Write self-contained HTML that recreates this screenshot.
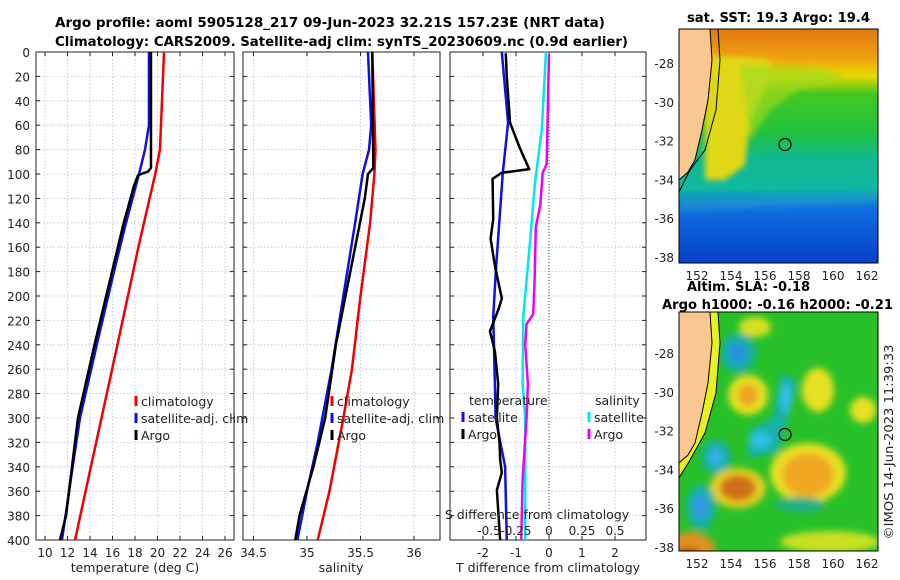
<!DOCTYPE html>
<html><head><meta charset="utf-8"><style>
body{margin:0;background:#fff}
svg{display:block;font-family:"DejaVu Sans","Liberation Sans",sans-serif}
</style></head><body>
<svg id="fig" width="900" height="580" viewBox="0 0 900 580">
<defs>
<filter id="blur6" x="-30%" y="-30%" width="160%" height="160%"><feGaussianBlur stdDeviation="3.5"/></filter>
<filter id="blur3" x="-30%" y="-30%" width="160%" height="160%"><feGaussianBlur stdDeviation="3"/></filter>
<clipPath id="c1"><rect x="679" y="29" width="199" height="234"/></clipPath>
<clipPath id="c2"><rect x="679" y="312" width="199" height="239"/></clipPath>
<linearGradient id="sst" x1="0" y1="0" x2="0" y2="1">
<stop offset="0" stop-color="#e07810"/><stop offset="0.12" stop-color="#f0a010"/><stop offset="0.2" stop-color="#e8d800"/>
<stop offset="0.28" stop-color="#40c820"/><stop offset="0.45" stop-color="#20c040"/><stop offset="0.55" stop-color="#10b890"/>
<stop offset="0.68" stop-color="#10b8a0"/><stop offset="0.76" stop-color="#1070e0"/><stop offset="1" stop-color="#0840c8"/></linearGradient>
</defs>
<text x="55" y="27" font-size="13.5" font-weight="bold" textLength="550" lengthAdjust="spacingAndGlyphs">Argo profile: aoml 5905128_217 09-Jun-2023 32.21S 157.23E (NRT data)</text>
<text x="55" y="46" font-size="13.5" font-weight="bold" textLength="573" lengthAdjust="spacingAndGlyphs">Climatology: CARS2009. Satellite-adj clim: synTS_20230609.nc (0.9d earlier)</text>
<g id="panels"></g>
<!-- map 1 -->
<g>
<g clip-path="url(#c1)">
<rect x="679" y="29" width="199" height="234" fill="url(#sst)"/>
<g filter="url(#blur3)">
<path d="M705 55 L770 60 L765 90 L750 120 L745 165 L725 180 L705 180 Z" fill="#e0d818"/>
<path d="M740 65 L820 68 L850 78 L800 88 L770 110 L750 140 Z" fill="#a0d820" opacity="0.7"/>
<path d="M679 198 L878 192 L878 202 L679 212 Z" fill="#20a0d0" opacity="0.5"/>
</g>
<path d="M679 29 L710 29 L712 60 L708 100 L702 130 L695 160 L688 172 L679 180 Z" fill="#f8c890"/>
<path d="M710 29 L712 60 L708 100 L702 130 L695 160 L688 172 L679 180" fill="none" stroke="#000" stroke-width="1"/>
<path d="M718 29 L720 60 L716 110 L705 150 L690 170 L679 192" fill="none" stroke="#000" stroke-width="1"/>
</g>
<rect x="679" y="29" width="199" height="234" fill="none" stroke="#000"/>
<circle cx="785" cy="144.5" r="6" fill="none" stroke="#000" stroke-width="1.2"/>
<text x="687" y="22" font-size="13" font-weight="bold" textLength="183" lengthAdjust="spacingAndGlyphs">sat. SST: 19.3 Argo: 19.4</text>
</g>
<!-- map 2 -->
<g>
<g clip-path="url(#c2)">
<rect x="679" y="312" width="199" height="239" fill="#28c028"/>
<g filter="url(#blur6)">
<ellipse cx="755" cy="327" rx="16" ry="10" fill="#d8e020"/>
<ellipse cx="738" cy="353" rx="18" ry="20" fill="#18b0a0"/><ellipse cx="738" cy="353" rx="9" ry="10" fill="#2890e0"/>
<ellipse cx="748" cy="395" rx="20" ry="20" fill="#e8e020"/><ellipse cx="748" cy="395" rx="10" ry="11" fill="#f0a020"/>
<ellipse cx="818" cy="390" rx="16" ry="22" fill="#e8e020"/>
<ellipse cx="863" cy="410" rx="13" ry="13" fill="#e8e020"/>
<path d="M782 372 L797 382 L778 452 L748 458 L750 430 L773 418 Z" fill="#18b0a8"/>
<ellipse cx="786" cy="398" rx="6" ry="15" fill="#30c0e8"/><ellipse cx="760" cy="440" rx="11" ry="8" fill="#30c0e8"/>
<ellipse cx="808" cy="473" rx="38" ry="30" fill="#e8e020"/><ellipse cx="808" cy="475" rx="26" ry="22" fill="#f0a820"/>
<ellipse cx="716" cy="457" rx="15" ry="17" fill="#18b0a0"/><ellipse cx="716" cy="457" rx="7" ry="9" fill="#30b0e8"/>
<ellipse cx="738" cy="488" rx="28" ry="20" fill="#e8d020"/><ellipse cx="738" cy="488" rx="18" ry="13" fill="#d07018"/>
<ellipse cx="701" cy="507" rx="15" ry="23" fill="#18b0a0"/><ellipse cx="701" cy="507" rx="7" ry="13" fill="#3098e8"/>
<ellipse cx="690" cy="550" rx="25" ry="18" fill="#e09020"/><ellipse cx="688" cy="556" rx="14" ry="8" fill="#b04010"/>
<ellipse cx="800" cy="505" rx="25" ry="8" fill="#20b080"/>
<ellipse cx="830" cy="542" rx="50" ry="11" fill="#c8e020"/>
</g>
<path d="M679 312 L710 312 L712 343 L708 383 L702 413 L695 443 L688 455 L679 463 Z" fill="#f8c890"/>
<path d="M710 312 L712 343 L708 383 L702 413 L695 443 L688 455 L679 463 L679 478 L690 460 L705 433 L716 393 L720 343 L718 312 Z" fill="#e8f020"/>
<path d="M710 312 L712 343 L708 383 L702 413 L695 443 L688 455 L679 463" fill="none" stroke="#000"/>
<path d="M718 312 L720 343 L716 393 L705 433 L690 460 L679 478" fill="none" stroke="#000"/>
</g>
<rect x="679" y="312" width="199" height="239" fill="none" stroke="#000"/>
<circle cx="785" cy="434.5" r="6" fill="none" stroke="#000" stroke-width="1.2"/>
<text x="687" y="291" font-size="13" font-weight="bold" textLength="123" lengthAdjust="spacingAndGlyphs">Altim. SLA: -0.18</text>
<text x="662" y="309" font-size="13" font-weight="bold" textLength="231" lengthAdjust="spacingAndGlyphs">Argo h1000: -0.16 h2000: -0.21</text>
</g>
<text transform="translate(893,442) rotate(-90)" text-anchor="middle" font-size="12.5" fill="#222" textLength="195" lengthAdjust="spacingAndGlyphs">©IMOS 14-Jun-2023 11:39:33</text>
</svg>
<script>
const depthTicks=[0,20,40,60,80,100,120,140,160,180,200,220,240,260,280,300,320,340,360,380,400];
const tTicks=[10,12,14,16,18,20,22,24,26];
const sTicks=[34.5,35,35.5,36];
const dtTicks=[-2,-1,0,1,2];
const dsTicks=[-0.5,-0.25,0,0.25,0.5];
const dsTickLabels=["-0.5","-0.25","0","0.25","0.5"];
const tClimD=[0,80,100,160,240,320,400];
const tClim=[20.58,20.22,19.8,18.3,16.44,14.55,12.67];
const tSatD=[0,60,80,100,140,180,240,300,350,400];
const tSat=[19.24,19.24,18.89,18.36,17.2,16.13,14.6,13.11,12.3,11.51];
const tArgoD=[0,95,98,101,110,140,180,240,300,340,380,400];
const tArgo=[19.42,19.42,19.16,18.27,17.9,17.0,15.96,14.4,12.93,12.4,11.87,11.33];
const sClimD=[0,80,100,140,200,260,300,360,400];
const sClim=[35.61,35.64,35.63,35.59,35.5,35.42,35.34,35.21,35.1];
const sSatD=[0,60,80,100,140,200,260,320,360,400];
const sSat=[35.57,35.6,35.58,35.52,35.45,35.34,35.23,35.1,35.0,34.91];
const sArgoD=[0,95,100,120,160,200,240,300,340,380,400];
const sArgo=[35.61,35.62,35.57,35.54,35.45,35.36,35.27,35.17,35.06,34.93,34.89];
const dtArgoD=[1,20,58,79,96,99,104,137,153,175,202,210,229,245,272,300,320,334,345,359,400];
const dtArgo=[-1.31,-1.28,-1.18,-0.88,-0.6,-1.43,-1.71,-1.69,-1.77,-1.64,-1.43,-1.52,-1.79,-1.64,-1.54,-1.58,-1.5,-1.48,-1.43,-1.58,-1.48];
const dtSatD=[0,58,99,179,217,272,300,340,400];
const dtSat=[-1.43,-1.24,-1.4,-1.61,-1.69,-1.64,-1.62,-1.33,-1.28];
const dsSatD=[0,64,107,162,217,272,300,400];
const dsSat=[-0.023,-0.055,-0.106,-0.149,-0.195,-0.2,-0.18,-0.18];
const dsArgoD=[2,92,99,125,144,190,215,223,240,272,300,350,400];
const dsArgo=[0,-0.018,-0.048,-0.066,-0.1,-0.11,-0.12,-0.17,-0.18,-0.16,-0.17,-0.2,-0.21];

const NS='http://www.w3.org/2000/svg';
const G=document.getElementById('panels');
const Y0=52,Y1=540;
const yS=d=>Y0+(d/400)*(Y1-Y0);
function mk(tag,attrs,parent){const e=document.createElementNS(NS,tag);for(const k in attrs)e.setAttribute(k,attrs[k]);(parent||G).appendChild(e);return e;}
function txt(x,y,s,size,anchor,parent){const e=mk('text',{x:x,y:y,'font-size':size,'text-anchor':anchor||'middle',fill:'#222'},parent);e.textContent=s;return e;}
function panel(name,x0,x1,xf,ticks,labels){
  const g=mk('g',{});
  
  
  ticks.forEach(v=>mk('line',{x1:xf(v),x2:xf(v),y1:Y0,y2:Y1,stroke:'#b8c0e0','stroke-width':0.8,'stroke-dasharray':'1.5,2'},g));
  depthTicks.forEach(d=>{mk('line',{x1:x0,x2:x1,y1:yS(d),y2:yS(d),stroke:'#b8c0e0','stroke-width':0.8,'stroke-dasharray':'1.5,2'},g);
    mk('line',{x1:x0,x2:x0+4,y1:yS(d),y2:yS(d),stroke:'#222'},g);mk('line',{x1:x1-4,x2:x1,y1:yS(d),y2:yS(d),stroke:'#222'},g);});
  ticks.forEach((v,i)=>{mk('line',{x1:xf(v),x2:xf(v),y1:Y1-4,y2:Y1,stroke:'#222'},g);mk('line',{x1:xf(v),x2:xf(v),y1:Y0,y2:Y0+4,stroke:'#222'},g);
    const l=txt(xf(v),Y1+17,labels?labels[i]:String(v),12,'middle',g);
    
    });
  mk('rect',{x:x0,y:Y0,width:x1-x0,height:Y1-Y0,fill:'none',stroke:'#222','stroke-width':1},g);
  return g;
}
function line(g,ds,vs,xf,color,name,w){
  const p=mk('polyline',{points:ds.map((d,i)=>xf(vs[i])+','+yS(d)).join(' '),fill:'none',stroke:color,'stroke-width':w||2.5,'stroke-linejoin':'round'},g);
  
  
}
function legend(g,x,y,color,label){
  mk('line',{x1:x,x2:x,y1:y-10,y2:y,stroke:color,'stroke-width':3},g);
  const t=txt(x+5,y,label,12.5,'start',g);
  
  
}
depthTicks.forEach(d=>{const t=txt(30,yS(d)+5,String(d),12,'end');
  
  });
// panel 1
const xT=v=>45+(v-10)*11.25;
const p1=panel('temperature-panel',36,234,xT,tTicks);
line(p1,tClimD,tClim,xT,'#f00000','temperature-climatology-line');
line(p1,tSatD,tSat,xT,'#1010e0','temperature-satellite-line');
line(p1,tArgoD,tArgo,xT,'#000','temperature-argo-line');
legend(p1,136,406,'#f00000','climatology');legend(p1,136,423,'#1010e0','satellite-adj. clim');legend(p1,136,440,'#000','Argo');
let t=txt(135,572,'temperature (deg C)',12.5);


// panel 2
const xS=v=>307+(v-35)*107;
const p2=panel('salinity-panel',243,440,xS,sTicks);
line(p2,sClimD,sClim,xS,'#f00000','salinity-climatology-line');
line(p2,sSatD,sSat,xS,'#1010e0','salinity-satellite-line');
line(p2,sArgoD,sArgo,xS,'#000','salinity-argo-line');
legend(p2,332,406,'#f00000','climatology');legend(p2,332,423,'#1010e0','satellite-adj. clim');legend(p2,332,440,'#000','Argo');
t=txt(341,572,'salinity',12.5);


// panel 3
const xD=v=>549+v*33;
const xDS=v=>549+v*132;
const p3=panel('difference-panel',450,646,xD,dtTicks);
mk('line',{x1:549,x2:549,y1:Y0,y2:Y1,stroke:'#405030','stroke-width':1,'stroke-dasharray':'1,2'},p3);
line(p3,dsSatD,dsSat,xDS,'#00e8e8','salinity-diff-satellite-line');
line(p3,dsArgoD,dsArgo,xDS,'#f000f0','salinity-diff-argo-line');
line(p3,dtSatD,dtSat,xD,'#1010e0','temperature-diff-satellite-line');
line(p3,dtArgoD,dtArgo,xD,'#000','temperature-diff-argo-line');
t=txt(469,405,'temperature',12.5,'start',p3);


t=txt(595,405,'salinity',12.5,'start',p3);


legend(p3,463,422,'#1010e0','satellite');legend(p3,463,439,'#000','Argo');
legend(p3,589,422,'#00e8e8','satellite');legend(p3,589,439,'#f000f0','Argo');
t=txt(537,519,'S difference from climatology',12.5,'middle',p3);


dsTicks.forEach((v,i)=>{const l=txt(xDS(v)+(v===-0.5?6:0),535,dsTickLabels[i],12,'middle',p3);
  
  });
t=txt(548,572,'T difference from climatology',12.5);


// map ticks
const lonTicks=[152,154,156,158,160,162];
const latTicks=[-28,-30,-32,-34,-36,-38];
const lonX=v=>697+(v-152)*17;
[[63,263],[353,551]].forEach(([y28,yb])=>{
  lonTicks.forEach(v=>{mk('line',{x1:lonX(v),x2:lonX(v),y1:yb-4,y2:yb,stroke:'#222'});
    const l=txt(lonX(v),yb+17,String(v),12);
    
    });
  latTicks.forEach(v=>{const y=y28+(-28-v)*19.4;mk('line',{x1:679,x2:683,y1:y,y2:y,stroke:'#222'});mk('line',{x1:874,x2:878,y1:y,y2:y,stroke:'#222'});
    const l=txt(674,y+5,String(v),12,'end');
    
    });
});
</script>
</body></html>
